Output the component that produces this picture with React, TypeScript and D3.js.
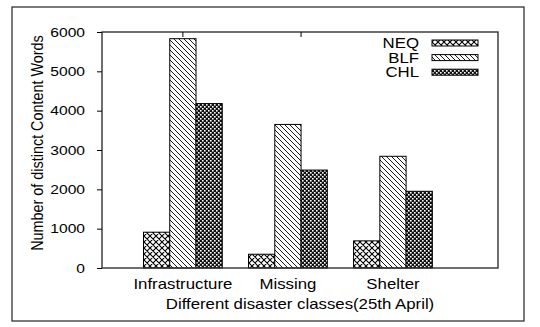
import React, { useRef, useEffect } from 'react';
import * as d3 from 'd3';

const categories = ['Infrastructure', 'Missing', 'Shelter'];
const seriesNames = ['NEQ', 'BLF', 'CHL'];
const neqValues = [910, 350, 690];
const blfValues = [5830, 3650, 2840];
const chlValues = [4180, 2490, 1950];
const yTicks = [0, 1000, 2000, 3000, 4000, 5000, 6000];
const topTicks = [0, 1.125];

const W = 540;
const H = 327;
const FONT = '"Liberation Sans", Arial, Helvetica, sans-serif';
const SX = 1.2; // the source picture is stretched horizontally

const App = () => {
  const svgRef = useRef<SVGSVGElement>(null);

  useEffect(() => {
    const svg = d3.select(svgRef.current);
    svg.selectAll('*').remove();

    const margin = { top: 32, right: 42, bottom: 59, left: 102 };
    const innerW = W - margin.left - margin.right;
    const innerH = H - margin.top - margin.bottom;

    // patterns
    const defs = svg.append('defs');
    const cross = defs.append('pattern').attr('id', 'p-neq')
      .attr('patternUnits', 'userSpaceOnUse').attr('width', 6).attr('height', 6);
    cross.append('rect').attr('width', 6).attr('height', 6).attr('fill', '#fff');
    cross.append('path').attr('d', 'M0,0L6,6M6,0L0,6M-3,3L0,6M3,-3L6,0M3,9L6,6M9,3L6,6')
      .attr('stroke', '#000').attr('stroke-width', 1.1);

    const diag = defs.append('pattern').attr('id', 'p-blf')
      .attr('patternUnits', 'userSpaceOnUse').attr('width', 5).attr('height', 5);
    diag.append('rect').attr('width', 5).attr('height', 5).attr('fill', '#fff');
    diag.append('path').attr('d', 'M0,0L5,5M-1,4L1,6M4,-1L6,1')
      .attr('stroke', '#000').attr('stroke-width', 0.9);

    const dots = defs.append('pattern').attr('id', 'p-chl')
      .attr('patternUnits', 'userSpaceOnUse').attr('width', 4).attr('height', 4);
    dots.append('rect').attr('width', 4).attr('height', 4).attr('fill', '#111');
    dots.append('rect').attr('x', 0).attr('y', 0).attr('width', 1.6).attr('height', 1.6).attr('fill', '#fff');
    dots.append('rect').attr('x', 2).attr('y', 2).attr('width', 1.6).attr('height', 1.6).attr('fill', '#fff');

    const fills = ['url(#p-neq)', 'url(#p-blf)', 'url(#p-chl)'];
    const series = [neqValues, blfValues, chlValues];

    // outer frame
    svg.append('rect')
      .attr('x', 12).attr('y', 7).attr('width', 512).attr('height', 314)
      .attr('fill', 'none').attr('stroke', '#222').attr('stroke-width', 1.2);

    const g = svg.append('g').attr('transform', `translate(${margin.left},${margin.top})`);

    const x = d3.scaleLinear().domain([-0.77, 3]).range([0, innerW]);
    const y = d3.scaleLinear().domain([0, 6000]).range([innerH, 0]);
    const barW = x(0.25) - x(0);

    // bars
    series.forEach((vals, s) => {
      g.selectAll(`rect.s${s}`)
        .data(vals)
        .enter()
        .append('rect')
        .attr('class', `s${s}`)
        .attr('x', (d, i) => x(i) + (s - 1.5) * barW)
        .attr('width', barW)
        .attr('y', d => y(d))
        .attr('height', d => y(0) - y(d))
        .attr('fill', fills[s])
        .attr('stroke', '#000')
        .attr('stroke-width', 1);
    });

    // plot frame
    g.append('rect')
      .attr('width', innerW).attr('height', innerH)
      .attr('fill', 'none').attr('stroke', '#333').attr('stroke-width', 1.4);

    // y axis
    const yAxis = g.append('g').call(d3.axisLeft(y).tickValues(yTicks).tickSize(5).tickFormat(d3.format('d')));
    yAxis.select('.domain').remove();
    yAxis.selectAll('line').attr('stroke', '#000');
    yAxis.selectAll('text').remove();
    g.selectAll('text.ytick')
      .data(yTicks)
      .enter()
      .append('text')
      .attr('class', 'ytick')
      .attr('transform', d => `translate(-17,${y(d) + 4.5}) scale(${SX},1)`)
      .attr('text-anchor', 'end')
      .attr('font-family', FONT)
      .attr('font-size', 13)
      .text(d => d);

    // top mirror ticks
    g.selectAll('line.ttick')
      .data(topTicks)
      .enter()
      .append('line')
      .attr('x1', d => x(d)).attr('x2', d => x(d))
      .attr('y1', 0).attr('y2', 5)
      .attr('stroke', '#000');

    // category labels
    g.selectAll('text.cat')
      .data(categories)
      .enter()
      .append('text')
      .attr('class', 'cat')
      .attr('transform', (d, i) => `translate(${x(i)},${innerH + 21}) scale(${SX},1)`)
      .attr('text-anchor', 'middle')
      .attr('font-family', FONT)
      .attr('font-size', 14)
      .text(d => d);

    // axis titles
    svg.append('text')
      .attr('transform', `translate(300,309) scale(${SX},1)`)
      .attr('text-anchor', 'middle')
      .attr('font-family', FONT)
      .attr('font-size', 14)
      .text('Different disaster classes(25th April)');

    svg.append('text')
      .attr('transform', `translate(43,143) rotate(-90) scale(1,1.15)`)
      .attr('text-anchor', 'middle')
      .attr('font-family', FONT)
      .attr('font-size', 14.4)
      .text('Number of distinct Content Words');

    // legend
    const legend = svg.append('g');
    seriesNames.forEach((name, s) => {
      const cy = 43 + s * 14.6;
      legend.append('text')
        .attr('transform', `translate(419,${cy + 5}) scale(${SX},1)`)
        .attr('text-anchor', 'end')
        .attr('font-family', FONT)
        .attr('font-size', 14)
        .text(name);
      legend.append('rect')
        .attr('x', 432).attr('y', cy - 3)
        .attr('width', 46).attr('height', 6)
        .attr('fill', fills[s])
        .attr('stroke', '#000').attr('stroke-width', 1);
    });
  }, []);

  return (
    <svg ref={svgRef} width={W} height={H}
      style={{ position: 'absolute', left: 0, top: 0, background: '#fff' }} />
  );
};

export default App;
